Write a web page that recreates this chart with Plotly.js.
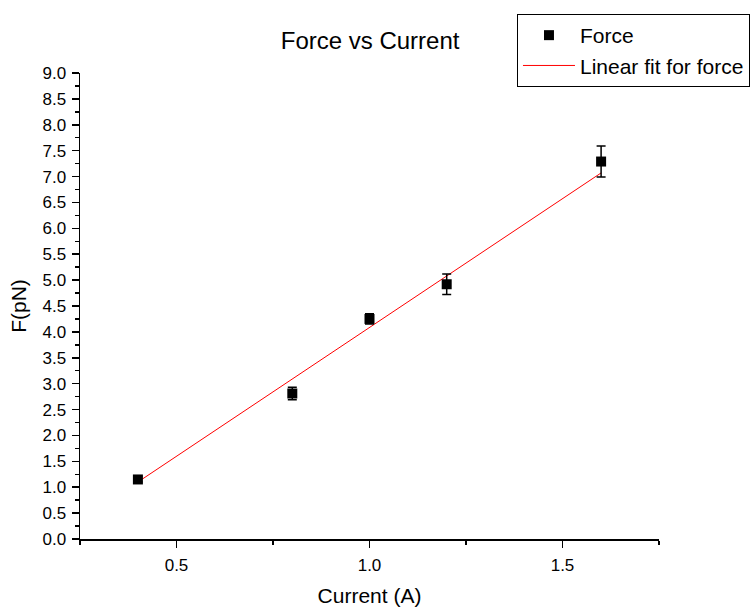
<!DOCTYPE html>
<html>
<head>
<meta charset="utf-8">
<script src="https://cdn.plot.ly/plotly-3.0.1.min.js"></script>
<style>
  html, body { margin: 0; padding: 0; background: #fff; }
  #chart { width: 750px; height: 608px; }
</style>
</head>
<body>
<div id="chart"></div>
<script>
// Measured force for each coil current, with error bars
const current = [0.4, 0.8, 1.0, 1.2, 1.6];
const force = [1.15, 2.81, 4.25, 4.92, 7.29];
const forceErr = [0.05, 0.12, 0.1, 0.2, 0.3];

// Linear fit evaluated at the ends of the measured range
const fitCurrent = [0.4, 1.6];
const fitForce = [1.10, 7.07];

const FONT = 'Liberation Sans, Arial, sans-serif';

const traces = [
  {
    x: fitCurrent,
    y: fitForce,
    type: 'scatter',
    mode: 'lines',
    name: 'Linear fit for force',
    line: { color: '#ff0000', width: 1 },
    legendrank: 2
  },
  {
    x: current,
    y: force,
    type: 'scatter',
    mode: 'markers',
    name: 'Force',
    marker: { symbol: 'square', size: 10, color: '#000000' },
    error_y: { type: 'data', array: forceErr, visible: true, color: '#000000', thickness: 1.5, width: 4.5 },
    legendrank: 1
  }
];

const layout = {
  width: 750,
  height: 608,
  // fixed margins: the legend runs off the right edge and must not shrink the plot
  margin: { l: 80, r: 91, t: 73, b: 69, autoexpand: false },
  paper_bgcolor: '#ffffff',
  plot_bgcolor: '#ffffff',
  font: { family: FONT, color: '#000000', size: 17 },
  title: {
    text: 'Force vs Current',
    font: { family: FONT, size: 24, color: '#000000' },
    x: 0.501, xref: 'paper', xanchor: 'center',
    y: 0.933, yref: 'container', yanchor: 'middle'
  },
  showlegend: true,
  legend: {
    x: 0.7547, xanchor: 'left',
    y: 1.1266, yanchor: 'top',
    bordercolor: '#000000', borderwidth: 1,
    bgcolor: '#ffffff',
    font: { family: FONT, size: 21, color: '#000000' },
    itemwidth: 52,
    tracegroupgap: 0
  },
  xaxis: {
    range: [0.25, 1.75],
    tick0: 0, dtick: 0.5,
    tickformat: '.1f',
    ticks: 'outside', ticklen: 7, tickwidth: 1.5, tickcolor: '#000000',
    ticklabelstandoff: 3,
    minor: { dtick: 0.25, ticks: 'outside', ticklen: 4, tickwidth: 1.5, tickcolor: '#000000', showgrid: false },
    showline: true, linecolor: '#000000', linewidth: 1.5,
    showgrid: false, zeroline: false,
    tickfont: { family: FONT, size: 17, color: '#000000' },
    title: { text: 'Current (A)', font: { family: FONT, size: 21, color: '#000000' }, standoff: 14 }
  },
  yaxis: {
    range: [0, 9],
    tick0: 0, dtick: 0.5,
    tickformat: '.1f',
    ticks: 'outside', ticklen: 7, tickwidth: 1.5, tickcolor: '#000000',
    ticklabelstandoff: 2,
    minor: { dtick: 0.25, ticks: 'outside', ticklen: 4, tickwidth: 1.5, tickcolor: '#000000', showgrid: false },
    showline: true, linecolor: '#000000', linewidth: 1.5,
    showgrid: false, zeroline: false,
    tickfont: { family: FONT, size: 17, color: '#000000' },
    title: { text: 'F(pN)', font: { family: FONT, size: 21, color: '#000000' }, standoff: 10 }
  }
};

Plotly.newPlot('chart', traces, layout, { displayModeBar: false, staticPlot: true });
</script>
</body>
</html>
